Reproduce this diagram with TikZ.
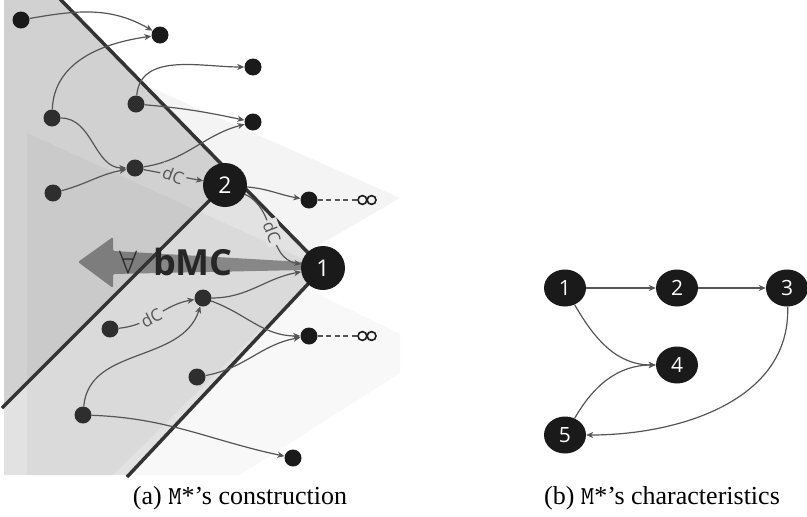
\documentclass[tikz,border=0pt]{standalone}
\usepackage{fontspec}
\usepackage{graphicx}
\setmainfont{Liberation Serif}
\newfontfamily\osans{Open Sans}
\usetikzlibrary{arrows.meta,shapes.geometric}
\definecolor{edgec}{HTML}{555555}
\definecolor{nodedark}{HTML}{1A1A1A}
\definecolor{nodegray}{HTML}{2E2E2E}
\definecolor{regl}{HTML}{D1D1D1}
\definecolor{band}{HTML}{E2E2E2}
\definecolor{fanup}{HTML}{F4F4F4}
\definecolor{fanlo}{HTML}{F8F8F8}
\definecolor{linec}{HTML}{333333}
\definecolor{textdark}{HTML}{262626}
\tikzset{
  dot/.style={circle, fill=nodedark, minimum size=17pt, inner sep=0pt},
  gdot/.style={dot, fill=nodegray},
  bignode/.style={circle, fill=nodedark, minimum size=44pt, inner sep=0pt, text=white, font=\osans\fontsize{23}{23}\selectfont},
  rnode/.style={ellipse, fill=nodedark, minimum width=42pt, minimum height=37pt, inner sep=0pt, text=white, font=\osans\fontsize{21}{21}\selectfont},
  edge/.style={draw=edgec, line width=1.2pt, -{Stealth[length=7pt,width=6pt,inset=2pt]}},
  dashedge/.style={draw=edgec, line width=1.2pt, dash pattern=on 5pt off 3.5pt},
  wall/.style={draw=linec, line width=3.5pt},
  lbl/.style={font=\osans\fontsize{17}{17}\selectfont, text=edgec, sloped, inner sep=2.5pt},
  infsym/.style={minimum width=20pt, minimum height=10pt, inner sep=0pt},
  capt/.style={font=\fontsize{26}{26}\selectfont, anchor=base}
}
\begin{document}
\begin{tikzpicture}[x=1pt,y=1pt]
\useasboundingbox (0,0) rectangle (807,-517);
% faint fans
\fill[fanup] (100,-65) -- (400,-198) -- (290,-262) -- (150,-150) -- cycle;
\fill[fanlo] (250,-261) -- (400,-334) -- (400,-373) -- (240,-475) -- (120,-475) -- cycle;
% gray regions
\fill[band] (4,0) -- (60,0) -- (323,-268) -- (127,-475) -- (4,-475) -- cycle;
\fill[regl] (4,0) -- (60,0) -- (221,-164) -- (225,-185) -- (4,-406) -- cycle;
\begin{scope}
  \clip (4,0) -- (60,0) -- (323,-268) -- (127,-475) -- (4,-475) -- cycle;
  \fill[black, opacity=0.03] (27,-133) -- (323,-268) -- (27,-560) -- cycle;
\end{scope}
% big arrow
\fill[black, opacity=0.38, rounded corners=1.5pt] (78,-262) -- (113,-237) -- (113,-251) -- (303,-262) -- (303,-270) -- (113,-274) -- (113,-288) -- cycle;
% walls
\draw[wall] (60,1) -- (323,-268) -- (127,-477);
\draw[wall] (225,-185) -- (2,-408);
% text of the arrow
\node[font=\fontsize{24}{24}\selectfont, text=textdark, inner sep=0pt] (forall) at (128,-262) {\scalebox{1.3}{$\forall$}};
\node[font=\osans\bfseries\fontsize{36}{36}\selectfont, text=textdark, inner sep=0pt] (bmc) at (193,-262) {bMC};
% nodes
\node[dot] (na) at (21,-20) {};
\node[dot] (nb) at (160,-35) {};
\node[dot] (nc) at (253,-67) {};
\node[dot] (nd) at (253,-122) {};
\node[gdot] (ne) at (136,-104) {};
\node[gdot] (nf) at (52,-118) {};
\node[gdot] (ng) at (135,-168) {};
\node[gdot] (nh) at (53,-193) {};
\node[dot] (ni) at (309,-200) {};
\node[gdot] (nj) at (203,-298) {};
\node[gdot] (nk) at (110,-329) {};
\node[dot] (nl) at (309,-336) {};
\node[gdot] (nm) at (197,-377) {};
\node[gdot] (nn) at (83,-415) {};
\node[dot] (no) at (293,-458) {};
\node[bignode] (n2) at (225,-185) {2};
\node[bignode] (n1) at (323,-268) {1};
\node[infsym] (inf1) at (367,-200) {};
\node[infsym] (inf2) at (367,-336) {};
\foreach \n in {inf1,inf2}{
  \draw[draw=nodedark, line width=1.6pt] ([xshift=-4.6pt]\n.center) circle (4.4pt) ([xshift=4.6pt]\n.center) circle (4.4pt);
}
% edges
\draw[edge] (na) to[out=10,in=150] (nb);
\draw[edge] (nf) to[out=88,in=188] (nb);
\draw[edge] (ne) to[out=85,in=180] (nc);
\draw[edge] (ne) to[out=-5,in=168] (nd);
\draw[edge] (nf) to[out=0,in=180] (ng);
\draw[edge] (nh) to[out=15,in=190] (ng);
\draw[edge] (ng) to[out=8,in=195] (nd);
\draw[edge] (ng) -- node[lbl, fill=regl, rotate=-10] {dC} (n2);
\draw[edge] (n2) to[out=-5,in=170] (ni);
\draw[edge] (n2) to[out=-25,in=170] node[lbl, fill=band] {dC} (n1);
\draw[edge] (nj) to[out=0,in=190] (n1);
\draw[edge] (nj) to[out=-20,in=180] (nl);
\draw[edge] (nm) to[out=10,in=190] (nl);
\draw[edge] (nk) to[out=5,in=190] node[lbl, fill=band!97!black, pos=0.42] {dC} (nj);
\draw[edge] (nn) to[out=85,in=252] (nj);
\draw[edge] (nn) to[out=-2,in=168] (no);
\draw[dashedge] (ni) -- (inf1.west);
\draw[dashedge] (nl) -- (inf2.west);
% right graph
\node[rnode] (r1) at (565,-288) {1};
\node[rnode] (r2) at (677,-288) {2};
\node[rnode] (r3) at (787,-288) {3};
\node[rnode] (r4) at (677,-365) {4};
\node[rnode] (r5) at (565,-435) {5};
\draw[edge] (r1) -- (r2);
\draw[edge] (r2) -- (r3);
\draw[edge] (r1) to[out=-60,in=180] (r4);
\draw[edge] (r5) to[out=60,in=180] (r4);
\draw[edge] (r3) to[out=-88,in=0] (r5);
% captions
\node[capt] (capa) at (240,-504) {(a) \texttt{M}*'s construction};
\node[capt] (capb) at (662,-504) {(b) \texttt{M}*'s characteristics};
\end{tikzpicture}
\end{document}
